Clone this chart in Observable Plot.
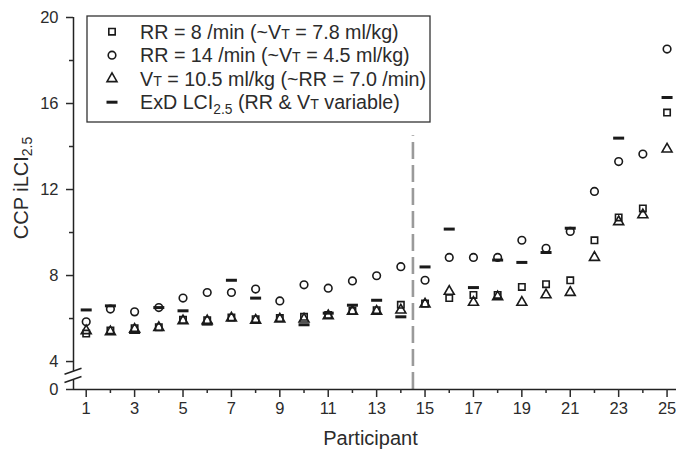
<!DOCTYPE html>
<html><head><meta charset="utf-8">
<script src="https://cdn.jsdelivr.net/npm/d3@7"></script>
<script src="https://cdn.jsdelivr.net/npm/@observablehq/plot@0.6"></script>
<style>
html,body{margin:0;padding:0;background:#fff;}
#chart{position:relative;width:676px;height:455px;}
svg{font-family:"Liberation Sans",Arial,sans-serif;}
</style></head><body><div id="chart"></div>
<script>
// ---- data ----
const participants = [1,2,3,4,5,6,7,8,9,10,11,12,13,14,15,16,17,18,19,20,21,22,23,24,25];
const rr8   = [5.30,5.45,5.55,5.60,5.94,5.92,6.05,5.97,6.02,6.08,6.17,6.36,6.39,6.64,6.70,6.95,7.10,7.10,7.47,7.60,7.78,9.64,10.70,11.12,15.58];
const rr14  = [5.85,6.44,6.31,6.51,6.95,7.21,7.21,7.37,6.82,7.57,7.41,7.75,7.99,8.41,7.78,8.84,8.84,8.84,9.64,9.27,10.05,11.91,13.30,13.65,18.53];
const vt105 = [5.43,5.38,5.50,5.58,5.89,5.89,6.02,5.92,5.97,5.97,6.13,6.33,6.33,6.39,6.67,7.26,6.75,7.01,6.75,7.10,7.21,8.84,10.50,10.82,13.88];
const exd   = [6.40,6.59,5.35,6.51,6.36,5.74,7.78,6.95,null,5.71,6.25,6.62,6.85,6.08,8.40,10.16,7.44,8.72,8.61,9.07,10.20,null,14.39,null,16.28];

const legendLabels = [
  "RR = 8 /min (~V{T} = 7.8 ml/kg)",
  "RR = 14 /min (~V{T} = 4.5 ml/kg)",
  "V{T} = 10.5 ml/kg (~RR = 7.0 /min)",
  "ExD LCI_{2.5} (RR & V{T} variable)"
];
const yLabel = "CCP iLCI_{2.5}";
const xLabel = "Participant";

const yTickValues = [2.7, 4, 8, 12, 16, 20];
const yTickLabels = ["0", "4", "8", "12", "16", "20"];
const yMinorTicks = [6, 10, 14, 18];
const xMajorTicks = [1,3,5,7,9,11,13,15,17,19,21,23,25];
const xMinorTicks = [2,4,6,8,10,12,14,16,18,20,22,24];
const dividerAt = [14.5];
const dividerTop = 14.5;
const xDomain = [0.475, 25.39];
const yDomain = [2.7, 20];
const yBreak = [3.12, 3.55];

// ---- build ----
const rows = participants.map((p, i) => ({p, rr8: rr8[i], rr14: rr14[i], vt105: vt105[i], exd: exd[i]}));
const tickLabelMap = new Map(yTickValues.map((v, i) => [v, yTickLabels[i]]));

const dashSymbol = {
  draw(ctx) {
    const w = 11, h = 3;
    ctx.moveTo(-w/2, -h/2); ctx.lineTo(w/2, -h/2); ctx.lineTo(w/2, h/2); ctx.lineTo(-w/2, h/2); ctx.closePath();
  }
};
const ink = "#1a1a1a";
const symR = {square: 3.6, circle: 3.8, triangle: 3.7};

const chart = Plot.plot({
  width: 676, height: 455,
  marginTop: 17, marginBottom: 66, marginLeft: 73, marginRight: 0,
  style: {fontFamily: "'Liberation Sans', Arial, sans-serif", fontSize: "16.5px", color: "#2b2b2b", background: "white"},
  x: {domain: xDomain},
  y: {domain: yDomain},
  marks: [
    Plot.ruleX(dividerAt, {y1: yDomain[0], y2: dividerTop, stroke: "#9a9a9a", strokeWidth: 2.6, strokeDasharray: "17,6"}),
    Plot.ruleY([yDomain[0]], {stroke: "#222", strokeWidth: 1.5}),
    Plot.ruleX([{y1: yDomain[0], y2: yBreak[0]}, {y1: yBreak[1], y2: yDomain[1]}], {x: () => xDomain[0], y1: "y1", y2: "y2", stroke: "#222", strokeWidth: 1.5}),
    Plot.axisY({ticks: yTickValues, tickFormat: d => tickLabelMap.get(d), tickSize: 7, tickPadding: 8, fontSize: 16.5, strokeWidth: 1.5, label: null}),
    Plot.axisY({ticks: yMinorTicks, tickFormat: () => "", tickSize: 4, strokeWidth: 1.5, label: null}),
    Plot.axisX({ticks: xMajorTicks, tickFormat: d => String(d), tickSize: 8, tickPadding: 5, fontSize: 16.5, strokeWidth: 1.5, label: null}),
    Plot.axisX({ticks: xMinorTicks, tickFormat: () => "", tickSize: 4, strokeWidth: 1.5, label: null}),
    Plot.dot(rows, {x: "p", y: "rr8", symbol: "square", r: symR.square, stroke: ink, strokeWidth: 1.6, fill: "none"}),
    Plot.dot(rows, {x: "p", y: "rr14", symbol: "circle", r: symR.circle, stroke: ink, strokeWidth: 1.6, fill: "none"}),
    Plot.dot(rows, {x: "p", y: "vt105", symbol: "triangle", r: symR.triangle, stroke: ink, strokeWidth: 1.6, fill: "none"}),
    Plot.dot(rows, {x: "p", y: "exd", symbol: dashSymbol, r: 4, fill: ink, stroke: "none"})
  ]
});
document.getElementById("chart").appendChild(chart);

// ---- rich text helper ----
function richText(textSel, str) {
  const re = /_\{([^}]*)\}|\{([^}]*)\}|([^{_]+)/g;
  let m, lowered = false;
  while ((m = re.exec(str)) !== null) {
    if (m[1] !== undefined) {
      textSel.append("tspan").attr("font-size", "0.7em").attr("dy", "0.32em").text(m[1]);
      lowered = true;
    } else if (m[2] !== undefined) {
      const t = textSel.append("tspan").attr("font-size", "0.72em").text(m[2]);
      if (lowered) { t.attr("dy", "-0.32em"); lowered = false; }
    } else {
      const t = textSel.append("tspan").text(m[3]);
      if (lowered) { t.attr("dy", "-0.224em"); lowered = false; }
    }
  }
}

const svg = d3.select(chart);
const sx = chart.scale("x"), sy = chart.scale("y");
const ax = sx.apply(xDomain[0]);

// axis break marks
[yBreak[0], yBreak[1]].forEach(v => {
  const cy = sy.apply(v) + (v === yBreak[0] ? -0.5 : 0.5);
  svg.append("line").attr("x1", ax - 8.5).attr("y1", cy + 3).attr("x2", ax + 8.5).attr("y2", cy - 3)
    .attr("stroke", "#222").attr("stroke-width", 1.5);
});

// axis titles
svg.append("text").attr("x", (sx.apply(xDomain[0]) + sx.apply(xDomain[1])) / 2 - 4).attr("y", 445)
  .attr("text-anchor", "middle").attr("font-size", 20).attr("fill", "#2b2b2b").text(xLabel);
const yl = svg.append("text").attr("transform", `translate(28,${(sy.apply(yDomain[0]) + sy.apply(yDomain[1])) / 2 - 15}) rotate(-90)`)
  .attr("text-anchor", "middle").attr("font-size", 20).attr("fill", "#2b2b2b");
richText(yl, yLabel);

// legend
const lg = svg.append("g").attr("text-anchor", "start");
lg.append("rect").attr("x", 87).attr("y", 16).attr("width", 343).attr("height", 106)
  .attr("fill", "white").attr("stroke", "#333").attr("stroke-width", 1.3);
const legendSymbols = [
  {type: d3.symbolSquare, r: symR.square, fill: "none", stroke: ink},
  {type: d3.symbolCircle, r: symR.circle, fill: "none", stroke: ink},
  {type: d3.symbolTriangle, r: symR.triangle, fill: "none", stroke: ink},
  {type: dashSymbol, r: 4, fill: ink, stroke: "none"}
];
legendLabels.forEach((lab, i) => {
  const cy = 31.7 + i * 23.5;
  const s = legendSymbols[i];
  lg.append("path").attr("transform", `translate(112,${cy})`)
    .attr("d", d3.symbol(s.type, s.r * s.r * Math.PI)())
    .attr("fill", s.fill).attr("stroke", s.stroke).attr("stroke-width", 1.6);
  const t = lg.append("text").attr("x", 140).attr("y", cy + 7).attr("text-anchor", "start")
    .attr("font-size", 19.7).attr("fill", "#2b2b2b");
  richText(t, lab);
});
</script></body></html>
